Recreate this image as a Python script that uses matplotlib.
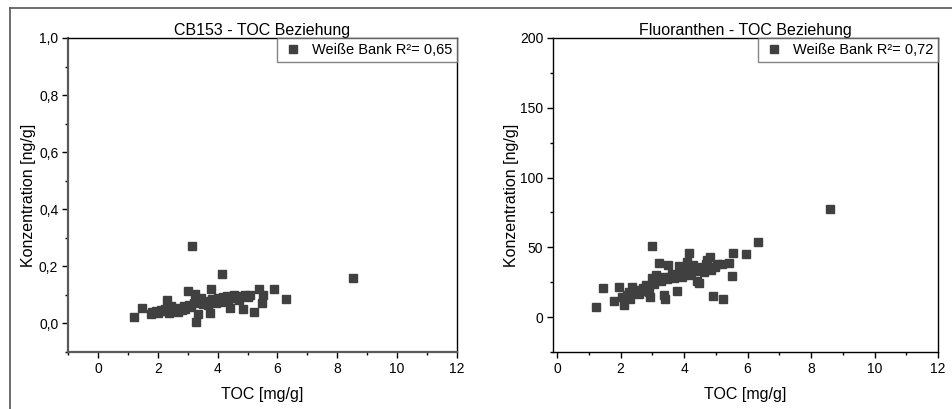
import matplotlib
matplotlib.use("Agg")
import matplotlib.pyplot as plt
from matplotlib.ticker import MultipleLocator, FuncFormatter
from matplotlib.lines import Line2D

plt.rcParams['font.family'] = ['Liberation Sans', 'DejaVu Sans']

# CB153 gegen TOC
toc_cb = [1.22, 1.47, 1.78, 1.82, 1.95, 2.02, 2.10, 2.18, 2.25, 2.32, 2.38, 2.45,
          2.52, 2.60, 2.66, 2.72, 2.80, 2.86, 2.92, 3.00, 3.05, 3.10, 3.15, 3.20,
          3.24, 3.29, 3.35, 3.40, 3.45, 3.50, 3.56, 3.62, 3.68, 3.74, 3.79, 3.82,
          3.88, 3.94, 4.00, 4.05, 4.10, 4.14, 4.18, 4.24, 4.30, 4.36, 4.42, 4.48,
          4.55, 4.62, 4.70, 4.78, 4.86, 4.92, 5.00, 5.08, 5.20, 5.39, 5.48, 5.53,
          5.90, 6.28, 8.52]
cb153 = [0.024, 0.055, 0.033, 0.040, 0.045, 0.038, 0.048, 0.042, 0.050, 0.083, 0.036, 0.062,
         0.045, 0.052, 0.041, 0.055, 0.048, 0.060, 0.052, 0.115, 0.065, 0.058, 0.273, 0.070,
         0.103, 0.006, 0.032, 0.075, 0.090, 0.068, 0.080, 0.072, 0.065, 0.038, 0.121, 0.085,
         0.078, 0.070, 0.088, 0.082, 0.075, 0.175, 0.092, 0.080, 0.095, 0.085, 0.053, 0.090,
         0.098, 0.088, 0.082, 0.095, 0.050, 0.100, 0.092, 0.098, 0.040, 0.121, 0.071, 0.100,
         0.121, 0.084, 0.160]

# Fluoranthen gegen TOC
toc_fl = [1.21, 1.44, 1.80, 1.96, 2.05, 2.12, 2.20, 2.28, 2.30, 2.35, 2.42, 2.50,
          2.58, 2.65, 2.72, 2.80, 2.88, 2.93, 2.99, 3.00, 3.05, 3.10, 3.15, 3.22,
          3.28, 3.34, 3.37, 3.40, 3.45, 3.49, 3.55, 3.62, 3.68, 3.77, 3.80, 3.84,
          3.90, 3.95, 4.00, 4.05, 4.08, 4.12, 4.16, 4.22, 4.28, 4.35, 4.42, 4.48,
          4.55, 4.62, 4.68, 4.72, 4.81, 4.85, 4.91, 4.98, 5.05, 5.19, 5.24, 5.43,
          5.52, 5.55, 5.95, 6.33, 8.59]
fluoranthen = [7.4, 20.8, 11.2, 21.3, 14.5, 8.8, 16.0, 18.0, 12.7, 21.7, 17.0, 19.5,
               16.5, 19.0, 21.0, 23.0, 18.0, 14.1, 50.9, 28.0, 24.0, 30.0, 27.0, 38.9,
               26.0, 29.0, 15.8, 12.7, 27.0, 37.3, 29.0, 31.0, 28.0, 18.6, 30.0, 36.6,
               32.0, 29.0, 33.0, 31.0, 39.7, 35.0, 46.1, 30.0, 37.0, 33.0, 26.0, 24.1,
               36.0, 32.0, 38.0, 40.9, 43.3, 34.0, 15.0, 36.0, 38.0, 37.8, 12.7, 38.5,
               29.6, 46.1, 45.4, 53.8, 77.2]

W, H = 953, 409
fig = plt.figure(figsize=(W / 100, H / 100), dpi=100)

# Rahmen oben und links
fig.add_artist(Line2D([10 / W, 10 / W], [0, 1 - 8 / H], color='#555555', lw=1.2))
fig.add_artist(Line2D([10 / W, 1], [1 - 8 / H, 1 - 8 / H], color='#555555', lw=1.2))

mcol = '#404040'


def komma(v, nd):
    return f"{v:.{nd}f}".replace('.', ',')


def setup(ax, title, xl, yl, ymaj, ymin, nd, gray, ylpad):
    ax.set_xlim(*xl)
    ax.set_ylim(*yl)
    ax.xaxis.set_major_locator(MultipleLocator(2))
    ax.xaxis.set_minor_locator(MultipleLocator(1))
    ax.yaxis.set_major_locator(MultipleLocator(ymaj))
    ax.yaxis.set_minor_locator(MultipleLocator(ymin))
    ax.yaxis.set_major_formatter(FuncFormatter(lambda v, p: komma(v, nd)))
    ax.tick_params(which='major', direction='out', length=4, width=1,
                   labelsize=10, colors='black')
    ax.tick_params(which='minor', direction='out', length=2.5, width=1)
    ax.tick_params(axis='x', pad=3)
    ax.tick_params(axis='y', pad=3)
    for s in ax.spines.values():
        s.set_color('black')
        s.set_linewidth(1)
    if gray:
        for s in ('left', 'bottom'):
            ax.spines[s].set_color('#5a5a5a')
            ax.spines[s].set_linewidth(1.6)
    ax.set_title(title, fontsize=11.5, pad=0)
    ax.set_xlabel('TOC [mg/g]', fontsize=11.5, labelpad=8)
    ax.set_ylabel('Konzentration [ng/g]', fontsize=11.5, labelpad=ylpad)
    lg = ax.legend(loc='upper right', borderaxespad=0, fontsize=10.5,
                   frameon=True, fancybox=False, handletextpad=0.6,
                   borderpad=0.35, handlelength=1.4)
    lg.get_frame().set_edgecolor('#666666')
    lg.get_frame().set_linewidth(1)


ax1 = fig.add_axes([68 / W, 1 - 352 / H, (457 - 68) / W, (352 - 38) / H])
ax1.plot(toc_cb, cb153, 's', color=mcol, markersize=5.2, label='Weiße Bank R²= 0,65')
setup(ax1, 'CB153 - TOC Beziehung', (-1, 12), (-0.1, 1.0), 0.2, 0.1, 1, True, 2)

ax2 = fig.add_axes([553 / W, 1 - 352 / H, (938 - 553) / W, (352 - 38) / H])
ax2.plot(toc_fl, fluoranthen, 's', color=mcol, markersize=5.2, label='Weiße Bank R²= 0,72')
setup(ax2, 'Fluoranthen - TOC Beziehung', (-0.13, 12), (-25, 200), 50, 25, 0, False, 1)

fig.savefig('out.png', dpi=100)
